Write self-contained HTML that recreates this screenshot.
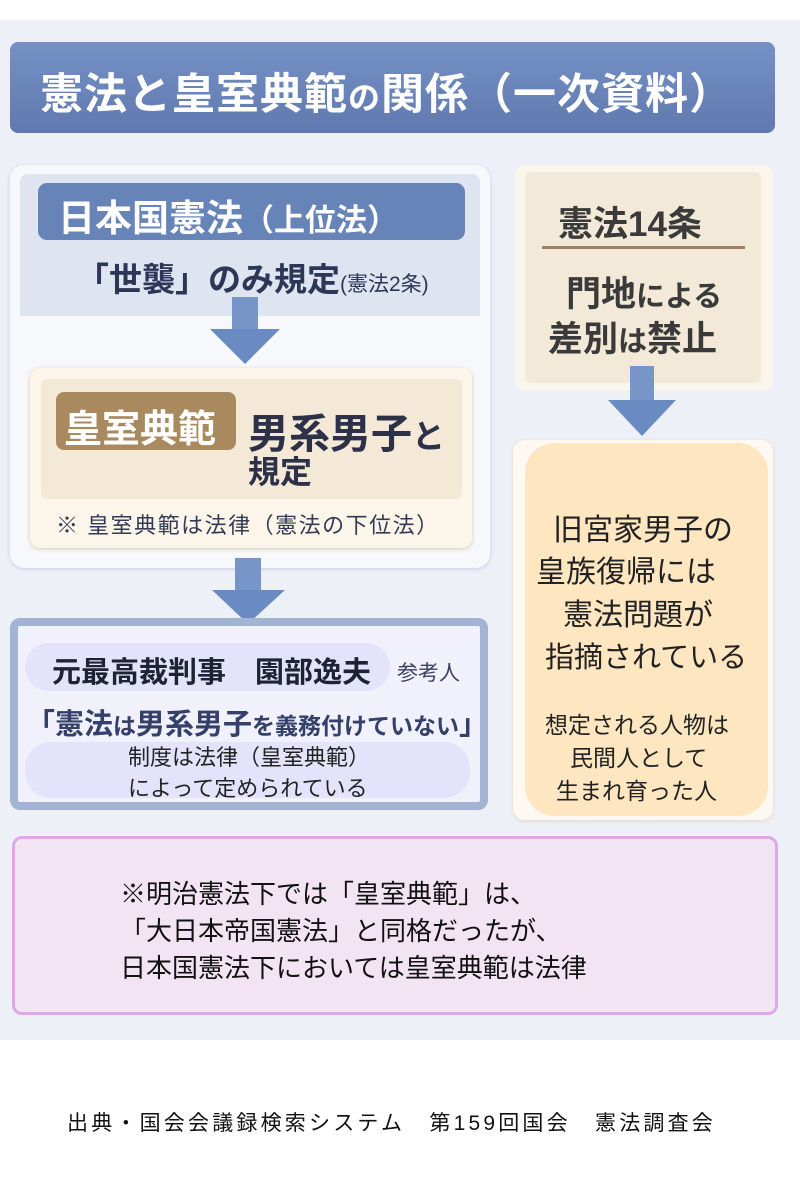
<!DOCTYPE html>
<html><head><meta charset="utf-8"><style>
*{margin:0;padding:0;box-sizing:border-box}
body{width:800px;height:1200px;background:#fff;position:relative;overflow:hidden;font-family:"Liberation Sans","Noto Sans CJK JP",sans-serif;color:#2a3350}
.a{position:absolute}
.t{position:absolute;white-space:nowrap}
.arrow{position:absolute}
</style></head><body>
<div class="a" style="left:0;top:20px;width:800px;height:1020px;background:#eef0f8"></div>
<div class="a" style="left:10px;top:42px;width:765px;height:91px;border-radius:8px;background:linear-gradient(#7591c4,#6079b0)"></div>
<div class="t" style="left:40px;top:60px;font-size:43px;font-weight:bold;color:#fff;letter-spacing:1px">憲法と皇室典範<span style="font-size:32px">の</span>関係（一次資料）</div>

<!-- left panel -->
<div class="a" style="left:10px;top:165px;width:480px;height:403px;border-radius:14px;background:#f7f8fc;box-shadow:0 1px 4px #c8cde0"></div>
<div class="a" style="left:20px;top:174px;width:460px;height:142px;border-radius:8px 8px 0 0;background:#dfe4f1"></div>
<div class="a" style="left:38px;top:183px;width:427px;height:57px;border-radius:9px;background:#6784b8"></div>
<div class="t" style="left:58px;top:188px;font-size:37px;font-weight:bold;color:#fff">日本国憲法<span style="font-size:31px">（上位法）</span></div>
<div class="t" style="left:76px;top:253px;font-size:33px;font-weight:bold;color:#2c3656">「世襲」のみ規定<span style="font-size:21px;font-weight:normal">(憲法2条)</span></div>
<svg class="arrow" style="left:205px;top:297px" width="80" height="70"><rect x="27" y="0" width="26" height="32" fill="#7795c6"/><polygon points="5,32 75,32 40,67" fill="#6a8bc2"/></svg>
<div class="a" style="left:30px;top:368px;width:442px;height:180px;border-radius:10px;background:#fbf5ea;box-shadow:0 1px 4px #d8cbb0"></div>
<div class="a" style="left:41px;top:379px;width:421px;height:120px;border-radius:6px;background:#f3e9d6"></div>
<div class="a" style="left:56px;top:392px;width:180px;height:58px;border-radius:8px;background:#a88a5e"></div>
<div class="t" style="left:64px;top:398px;font-size:38px;font-weight:bold;color:#fff">皇室典範</div>
<div class="t" style="left:248px;top:400px;font-size:41px;font-weight:bold;color:#2c3148">男系男子<span style="font-size:33px">と</span></div>
<div class="t" style="left:248px;top:447px;font-size:32px;font-weight:bold;color:#2c3148">規定</div>
<div class="t" style="left:56px;top:508px;font-size:22px;letter-spacing:1.5px;color:#333a55">※ 皇室典範は法律（憲法の下位法）</div>
<svg class="arrow" style="left:207px;top:558px" width="80" height="70"><rect x="28" y="0" width="26" height="32" fill="#7795c6"/><polygon points="5,32 78,32 41,66" fill="#6a8bc2"/></svg>

<!-- bottom-left box -->
<div class="a" style="left:10px;top:618px;width:478px;height:192px;border-radius:10px;border:8px solid #a2b3d4;background:#f0f1fb"></div>
<div class="a" style="left:25px;top:643px;width:365px;height:48px;border-radius:24px;background:#e3e4fb"></div>
<div class="t" style="left:52px;top:649px;font-size:29px;font-weight:bold;color:#1e2233">元最高裁判事　園部逸夫</div>
<div class="t" style="left:397px;top:657px;font-size:21px;color:#3a4060">参考人</div>
<div class="a" style="left:25px;top:742px;width:445px;height:56px;border-radius:26px;background:#e3e4fb"></div>
<div class="t" style="left:26px;top:701px;font-size:29px;font-weight:bold;color:#34406a">「憲法<span style="font-size:23px">は</span>男系男子<span style="font-size:23px">を義務付けていない</span>」</div>
<div class="t" style="left:128px;top:740px;font-size:22px;color:#222">制度は法律（皇室典範）</div>
<div class="t" style="left:128px;top:771px;font-size:22px;color:#222">によって定められている</div>

<!-- right top -->
<div class="a" style="left:515px;top:165px;width:258px;height:225px;border-radius:10px;background:#fbf6ec"></div>
<div class="a" style="left:525px;top:172px;width:236px;height:211px;border-radius:6px;background:#f2e9d8"></div>
<div class="t" style="left:558px;top:196px;font-size:35px;font-weight:bold;color:#3a3a3a">憲法14条</div>
<div class="a" style="left:542px;top:246px;width:203px;height:3px;background:#9c8260"></div>
<div class="t" style="left:566px;top:266px;font-size:35px;font-weight:bold;color:#3a3a3a">門地<span style="font-size:29px">による</span></div>
<div class="t" style="left:548px;top:311px;font-size:35px;font-weight:bold;color:#3a3a3a">差別<span style="font-size:29px">は</span>禁止</div>
<svg class="arrow" style="left:604px;top:366px" width="76" height="72"><rect x="26" y="0" width="24" height="34" fill="#7795c6"/><polygon points="4,34 72,34 38,70" fill="#6a8bc2"/></svg>

<!-- right bottom -->
<div class="a" style="left:513px;top:440px;width:260px;height:380px;border-radius:12px;background:#fdf9f2;box-shadow:0 1px 4px #e0d6c6"></div>
<div class="a" style="left:525px;top:443px;width:243px;height:373px;border-radius:30px;background:#fde6c0"></div>
<div class="t" style="left:553px;top:505px;font-size:30px;color:#222">旧宮家男子の</div>
<div class="t" style="left:536px;top:547px;font-size:30px;color:#222">皇族復帰には</div>
<div class="t" style="left:563px;top:590px;font-size:30px;color:#222">憲法問題が</div>
<div class="t" style="left:545px;top:634px;font-size:29px;color:#222">指摘されている</div>
<div class="t" style="left:545px;top:706px;font-size:23px;color:#222">想定される人物は</div>
<div class="t" style="left:570px;top:739px;font-size:23px;color:#222">民間人として</div>
<div class="t" style="left:556px;top:772px;font-size:23px;color:#222">生まれ育った人</div>

<!-- pink -->
<div class="a" style="left:12px;top:836px;width:766px;height:179px;border-radius:10px;border:3px solid #dca8e8;background:#f3e4f3"></div>
<div class="t" style="left:120px;top:874px;font-size:26px;color:#111">※明治憲法下では「皇室典範」は、</div>
<div class="t" style="left:120px;top:911px;font-size:26px;color:#111">「大日本帝国憲法」と同格だったが、</div>
<div class="t" style="left:120px;top:948px;font-size:26px;color:#111">日本国憲法下においては皇室典範は法律</div>

<div class="t" style="left:67px;top:1107px;font-size:21px;letter-spacing:3.2px;color:#111">出典・国会会議録検索システム　第159回国会　憲法調査会</div>
</body></html>
